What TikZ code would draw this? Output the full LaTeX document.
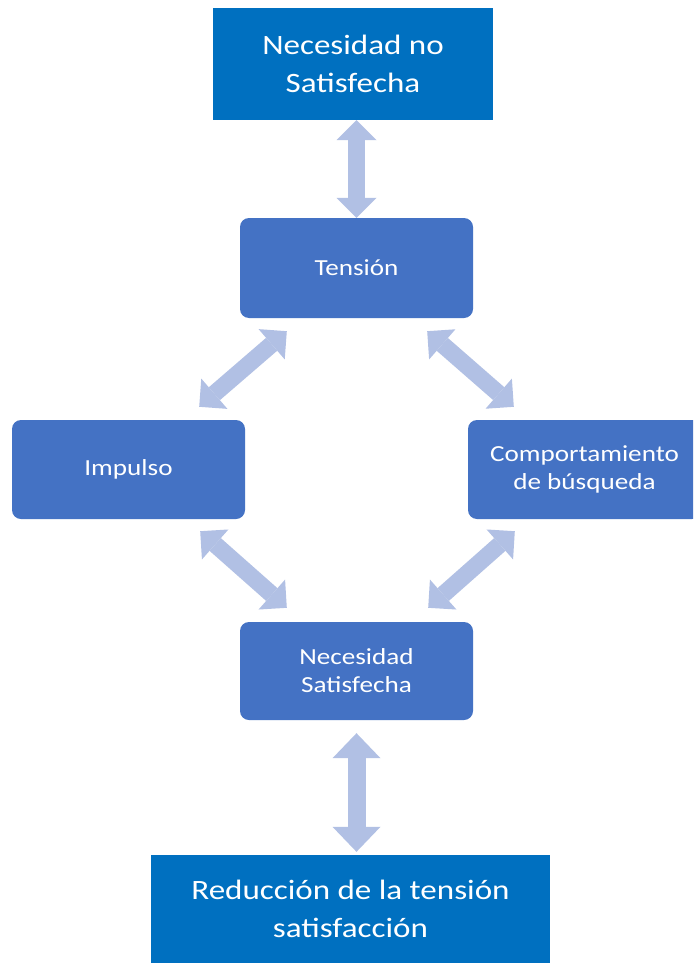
\documentclass[tikz,border=0pt]{standalone}
\usepackage{fontspec}
\setmainfont{Carlito}[FakeStretch=1.18]
\usetikzlibrary{arrows.meta,calc}

\definecolor{deepblue}{HTML}{0070C0}
\definecolor{midblue}{HTML}{4472C4}
\definecolor{paleblue}{RGB}{177,192,228}

\tikzset{
  bigbox/.style={fill=deepblue, text=white, align=center, inner sep=0pt,
    font=\fontsize{28}{38}\selectfont},
  roundbox/.style={fill=midblue, text=white, align=center, inner sep=0pt,
    rounded corners=9pt, minimum width=233pt, minimum height=99pt,
    font=\fontsize{23}{28}\selectfont},
  link/.style={paleblue, line width=17pt,
    {Triangle[width=40pt,length=20pt,line width=0pt]}-{Triangle[width=40pt,length=20pt,line width=0pt]}},
  linkwide/.style={paleblue, line width=18pt,
    {Triangle[width=48pt,length=25pt,line width=0pt]}-{Triangle[width=48pt,length=25pt,line width=0pt]}},
}

\begin{document}
\begin{tikzpicture}[x=1pt, y=-1pt]
  \fill[white] (0,0) rectangle (693,963);
  \useasboundingbox (0,0) rectangle (693,963);
  \clip (0,0) rectangle (693,963);

  % boxes
  \node[bigbox, minimum width=280pt, minimum height=112pt] (need) at (353,64)
    {Necesidad no\\Satisfecha};
  \node[roundbox, minimum height=100pt] (tension) at (356.5,268) {Tensión};
  \node[roundbox] (impulso) at (128.5,469.5) {Impulso};
  \node[roundbox] (busqueda) at (584.5,469.5) {Comportamiento\\de búsqueda};
  \node[roundbox, minimum height=98pt] (satis) at (356.5,671) {Necesidad\\Satisfecha};
  \node[bigbox, minimum width=399pt, minimum height=108pt] (reduccion) at (350.5,909)
    {Reducción de la tensión\\satisfacción};

  % connector end points
  \coordinate (t-l) at ($(tension.south west)+(47,13)$);
  \coordinate (i-t) at ($(impulso.north east)+(-46,-13)$);
  \coordinate (t-r) at ($(tension.south east)+(-46,13)$);
  \coordinate (b-t) at ($(busqueda.north west)+(46,-13)$);
  \coordinate (i-b) at ($(impulso.south east)+(-45,12)$);
  \coordinate (s-l) at ($(satis.north west)+(47,-14)$);
  \coordinate (b-b) at ($(busqueda.south west)+(47,12)$);
  \coordinate (s-r) at ($(satis.north east)+(-45,-14)$);
  \coordinate (s-b) at ($(satis.south)+(0,13)$);
  \coordinate (r-t) at ($(reduccion.north -| satis.south)+(0,-3)$);

  % double arrows
  \draw[link] (tension.north |- need.south) -- (tension.north);
  \draw[link] (t-l) -- (i-t);
  \draw[link] (t-r) -- (b-t);
  \draw[link] (i-b) -- (s-l);
  \draw[link] (b-b) -- (s-r);
  \draw[linkwide] (s-b) -- (r-t);
\end{tikzpicture}
\end{document}
